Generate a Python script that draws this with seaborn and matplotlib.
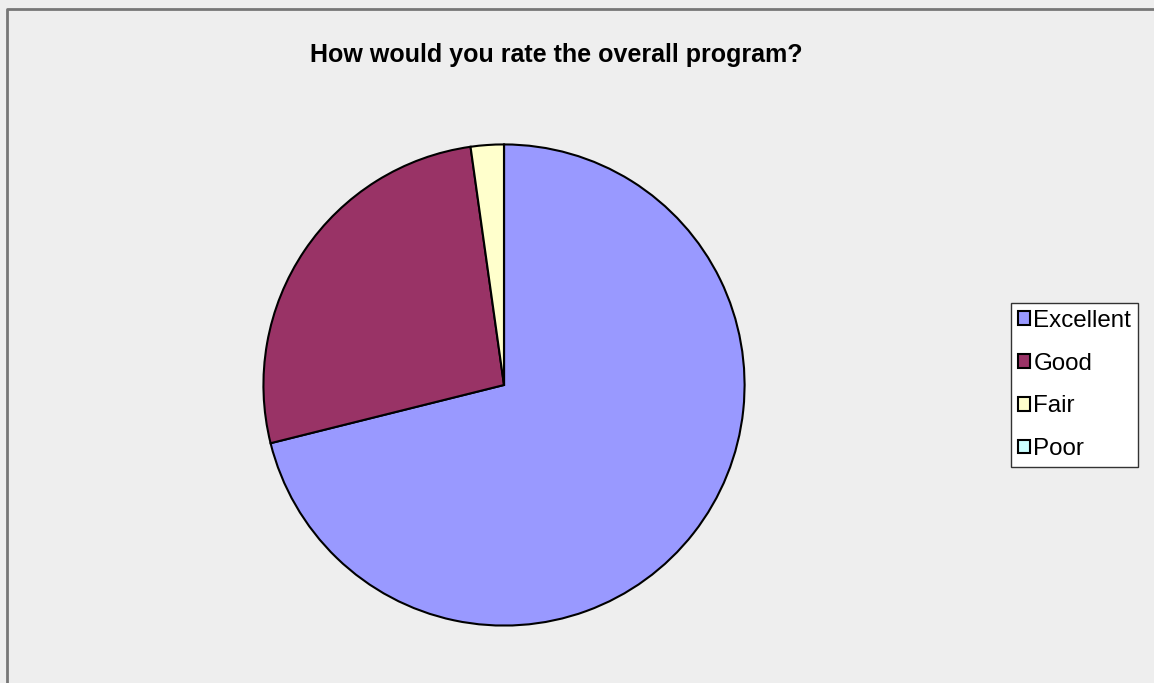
import matplotlib
matplotlib.use("Agg")
import matplotlib.pyplot as plt
import matplotlib.patches as mpatches
import seaborn as sns

# survey answers (45 respondents)
categories = ["Excellent", "Good", "Fair", "Poor"]
counts = [32, 12, 1, 0]
colors = ["#9999FF", "#993366", "#FFFFCC", "#CCFFFF"]
title = "How would you rate the overall program?"

sns.set_style("white")
plt.rcParams["font.family"] = ["Liberation Sans", "DejaVu Sans"]
plt.rcParams["text.color"] = "black"

fig = plt.figure(figsize=(11.54, 6.83), dpi=100, facecolor="#EEEEEE")

# outer chart border (left and top only, the rest is cropped)
fig.add_artist(plt.Line2D([0.0061, 0.0061, 1.0], [0.0, 0.9875, 0.9875],
                          transform=fig.transFigure, color="#777777", linewidth=2))

ax = fig.add_axes([0.2262, 0.0805, 0.4211, 0.7116])
ax.set_facecolor("#EEEEEE")
wedges, _ = ax.pie(counts, colors=sns.color_palette(colors), startangle=90, counterclock=False,
                   wedgeprops=dict(edgecolor="black", linewidth=1.5))
ax.set_aspect("equal")
ax.set_xlim(-1.01, 1.01)
ax.set_ylim(-1.01, 1.01)
ax.axis("off")

fig.text(0.4823, 0.919, title, ha="center", va="center", fontsize=18, fontweight="bold")

handles = [mpatches.Patch(facecolor=c, edgecolor="black", linewidth=1.5) for c in colors]
leg = fig.legend(handles, categories, loc="center left", bbox_to_anchor=(0.876, 0.4363),
                 fontsize=17.4, frameon=True, fancybox=False, edgecolor="#333333",
                 framealpha=1, handlelength=0.5, handleheight=0.5, handletextpad=0.15,
                 labelspacing=0.86, borderpad=0.28, borderaxespad=0)
leg.get_frame().set_facecolor("white")
leg.get_frame().set_linewidth(1)

fig.savefig("out.png", dpi=100, facecolor=fig.get_facecolor())
